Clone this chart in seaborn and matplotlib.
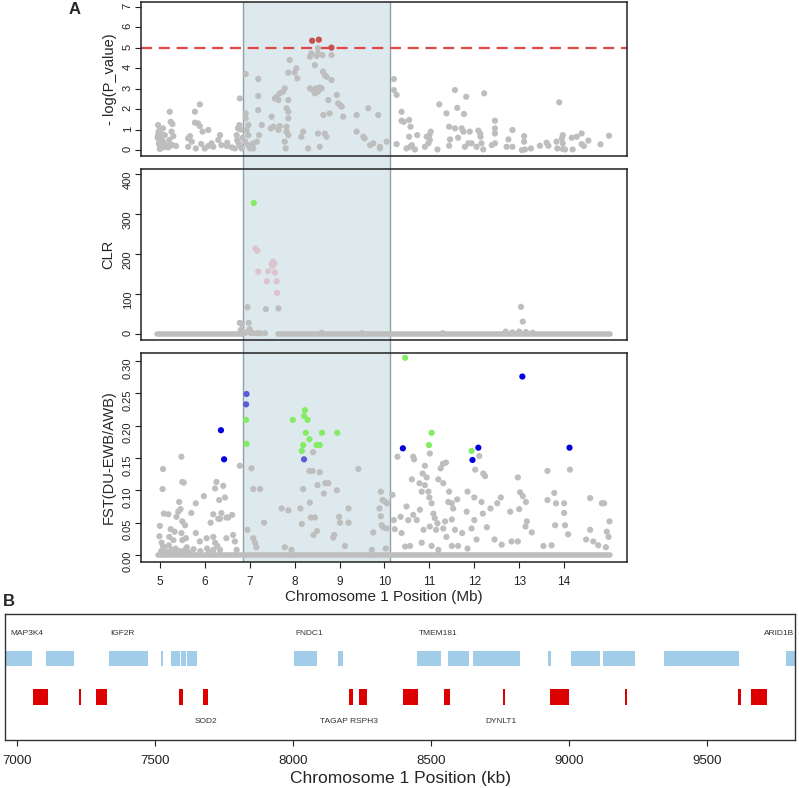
import numpy as np
import pandas as pd
import matplotlib
matplotlib.use("Agg")
import matplotlib.pyplot as plt
import seaborn as sns

sns.set_theme(style="white")
plt.rcParams["font.family"] = ["Liberation Sans", "DejaVu Sans"]

# ---------------- Panel A, top: -log(P) ----------------
pval_pos = [4.96, 5.0, 5.07, 4.96, 5.04, 5.11, 5.0, 5.07, 4.99, 5.06, 5.13, 5.22, 5.24, 5.28, 5.26, 5.3, 5.21, 5.28, 5.36, 5.19,
            4.97, 4.98, 5.0, 5.02, 4.95, 5.1, 5.15, 5.2, 5.03,
            5.63, 5.67, 5.71, 5.63, 5.78, 5.78, 5.85, 5.89, 5.89, 5.95, 6.08, 5.8, 6.0, 6.08, 6.15, 6.34, 6.3, 6.37, 6.5,
            6.6, 6.67, 6.71, 6.74, 6.77, 6.78, 6.72, 6.78, 6.82, 6.19, 6.49, 6.8, 6.84, 6.75, 5.92,
            6.91, 6.91, 6.91, 6.97, 6.93, 6.97, 6.9, 6.97, 7.01, 7.08, 7.19, 7.19, 7.19, 7.21, 7.16, 7.08, 7.27, 7.49, 7.47,
            7.53, 7.56, 7.6, 7.64, 7.67, 7.74, 7.78, 7.86, 7.89, 7.86, 7.82, 7.86, 7.86, 7.82, 7.82, 7.86, 7.78, 7.8, 7.67,
            7.64, 8.0, 8.04, 8.06, 8.19, 8.15, 8.3, 8.34, 8.37, 8.45, 8.49, 8.52, 8.52, 8.34, 8.41, 8.47, 8.52, 8.56, 8.6,
            8.45, 8.52, 8.56, 8.62, 8.63, 8.67, 8.71, 8.75, 8.78, 8.64, 8.67, 8.71, 8.82, 8.82, 8.94, 8.97, 9.01, 9.05,
            9.08, 9.38, 9.38, 9.53, 9.56, 9.64, 9.68, 9.75, 9.86, 9.9, 9.9, 10.05,
            10.21, 10.21, 10.27, 10.38, 10.38, 10.43, 10.55, 10.58, 10.55, 10.73, 10.27, 10.49, 10.57, 10.61, 10.68,
            10.9, 10.98, 11.01, 11.0, 11.03, 10.94, 11.18, 11.22, 11.38, 11.44, 11.46, 11.44, 11.57, 11.62, 11.57, 11.64,
            11.72, 11.77, 11.82, 11.76, 11.79, 11.87, 11.94, 11.9, 12.05, 12.09, 12.13, 12.14, 12.16, 12.2, 12.22, 12.39,
            12.46, 12.46, 12.46, 12.46, 12.76, 12.72, 12.85, 12.85, 13.06, 13.11, 13.11, 13.13, 13.26, 13.46, 13.61,
            13.65, 13.83, 13.85, 13.89, 13.95, 13.97, 13.97, 13.97, 14.02, 14.17, 14.19, 14.28, 14.39, 14.39, 14.44,
            14.54, 14.81, 15.0]
pval_val = [1.22, 0.98, 1.06, 0.73, 0.62, 0.73, 0.49, 0.41, 0.24, 0.13, 0.24, 1.87, 1.38, 1.27, 0.9, 0.68, 0.49, 0.24, 0.2, 0.13,
            0.9, 0.35, 0.05, 0.8, 0.6, 0.3, 0.15, 0.2, 0.2,
            0.57, 0.68, 0.41, 0.16, 1.87, 1.34, 1.3, 1.17, 2.23, 0.9, 0.98, 0.08, 0.08, 0.2, 0.33, 0.73, 0.49, 0.24, 0.36,
            0.13, 0.08, 0.73, 1.06, 1.22, 2.52, 0.49, 0.24, 0.08, 0.16, 0.2, 1.0, 0.6, 0.35, 0.3,
            3.71, 1.79, 1.55, 1.22, 0.98, 0.73, 0.41, 0.24, 0.08, 0.08, 3.47, 2.64, 1.95, 0.73, 0.41, 0.33, 1.22, 1.63, 1.06,
            1.14, 2.52, 2.6, 2.44, 2.77, 2.85, 3.01, 3.78, 4.4, 2.44, 2.04, 1.87, 1.55, 1.14, 0.9, 0.73, 0.41, 0.08, 1.17,
            0.98, 3.78, 3.99, 3.5, 0.9, 0.65, 0.08, 4.56, 4.72, 4.15, 4.59, 4.97, 4.72, 3.01, 2.93, 3.01, 2.85, 3.06, 3.01,
            2.77, 0.81, 0.16, 4.64, 3.83, 3.66, 3.58, 2.44, 1.79, 1.71, 0.81, 0.65, 3.42, 4.64, 2.69, 2.28, 2.2, 2.12,
            1.63, 1.71, 0.9, 0.65, 0.57, 2.04, 0.24, 0.33, 1.71, 0.16, 0.08, 0.41,
            3.47, 2.93, 2.69, 1.87, 1.43, 1.38, 1.47, 1.14, 0.65, 0.73, 0.29, 0.08, 0.16, 0.24, 0.03,
            0.16, 0.33, 0.49, 0.73, 0.9, 0.65, 0.03, 2.23, 1.79, 1.14, 0.52, 0.21, 2.93, 2.06, 1.06, 0.6,
            1.06, 1.76, 2.6, 0.9, 0.16, 0.33, 0.33, 0.9, 0.16, 0.95, 0.81, 0.65, 0.33, 0.03, 2.77, 0.24,
            0.33, 1.43, 1.06, 0.81, 0.52, 0.16, 0.98, 0.16, 0.0, 0.68, 0.41, 0.03, 0.08, 0.21, 0.36,
            0.21, 0.41, 0.08, 2.33, 0.57, 0.73, 0.33, 0.05, 0.03, 0.6, 0.03, 0.65, 0.81, 0.29, 0.2,
            0.46, 0.28, 0.7]
pval_sig_pos = [8.39, 8.54, 8.82]
pval_sig_val = [5.34, 5.39, 5.0]
pval_threshold = 5

# ---------------- Panel A, middle: CLR ----------------
clr_base_start = [4.93, 7.63]
clr_base_end = [6.85, 15.02]
clr_pos = [6.78, 6.82, 6.98, 6.8, 6.95, 7.36, 7.64, 6.83, 6.9, 6.99, 7.02, 7.08, 7.17, 7.23, 7.34, 7.0,
           12.7, 12.85, 13.0, 13.04, 13.08, 13.15, 13.3, 11.3, 9.5, 8.6,
           7.13, 7.17, 7.19, 7.41, 7.49, 7.52, 7.51, 7.56, 7.38, 7.6, 7.61, 7.55,
           7.09]
clr_val = [28, 25, 28, 10, 67, 62, 64, 5, 3, 8, 3, 2, 2, 2, 2, 12,
           6, 4, 6, 68, 31, 5, 3, 2, 2, 3,
           214, 208, 156, 157, 175, 181, 170, 154, 132, 132, 103, 176,
           328]
clr_grp = ["gray"] * 26 + ["pink"] * 12 + ["green"]

# ---------------- Panel A, bottom: FST ----------------
fst_base_start = [4.95]
fst_base_end = [15.02]
fst_gray_pos = [5.07, 5.06, 5.0, 4.99, 5.04, 5.07, 5.09, 5.19, 5.24, 5.21, 5.3, 5.26, 5.33, 5.37, 5.41, 5.43, 5.46, 5.48,
                5.5, 5.53, 5.5, 5.56, 5.48, 5.5, 5.58, 5.56, 5.7, 5.8, 5.8, 5.89, 5.98, 6.04, 6.13, 6.19, 6.23, 6.26,
                6.3, 6.34, 6.32, 6.37, 6.41, 6.45, 6.48, 6.52, 6.61, 6.19, 6.23, 6.28, 6.19, 6.34, 6.48, 6.63, 6.67,
                6.71, 6.78, 5.1, 5.15, 5.2, 5.35, 5.45, 5.6, 5.65, 5.75, 5.9, 6.05, 6.1, 5.03, 5.12, 5.28, 5.4,
                6.95, 7.04, 7.08, 7.23, 7.08, 7.12, 7.15, 7.32, 7.71, 7.86, 7.78, 7.93, 8.13, 8.19, 8.16, 8.33, 8.4, 8.56,
                8.34, 8.36, 8.45, 8.42, 8.5, 8.51, 8.68, 8.75, 8.65, 8.94, 8.88, 8.86, 9.01, 8.99, 9.2, 9.2, 9.12, 9.42,
                9.72, 9.75, 9.89, 9.92, 9.96, 10.01, 10.06, 9.94, 9.97, 10.05, 9.92, 10.03, 8.41,
                10.29, 10.64, 10.66, 11.01, 10.9, 10.85, 10.61, 10.78, 10.94, 10.9, 10.98, 10.83, 11.05, 11.0, 10.79,
                11.09, 11.12, 11.25, 11.3, 11.37, 11.2, 11.31, 11.44, 11.42, 11.5, 11.53, 11.62, 11.85, 11.83, 12.02,
                12.2, 12.24, 12.11, 12.0, 12.16, 12.0, 12.19, 12.36, 12.51, 12.59, 12.8, 13.02, 12.97, 13.08, 13.15,
                13.0, 13.17, 13.14, 13.28, 13.63, 13.63, 13.78, 13.82, 14.0, 14.0, 13.8, 14.02, 14.13, 14.09, 14.58,
                14.84, 14.89, 15.01, 14.58, 14.49, 14.65, 14.76, 14.95, 14.99, 14.93, 13.54, 13.72, 12.83, 12.97,
                12.61, 12.45, 12.28, 12.05, 11.94, 11.73, 11.57, 11.5, 11.35, 11.31, 11.38, 11.18, 11.15, 11.01,
                10.87, 10.72, 10.53, 10.49, 10.64, 10.36, 10.21, 10.23, 10.38, 10.46, 10.57, 10.83, 11.05, 11.2,
                11.5, 11.64, 11.85, 10.18]
fst_gray_val = [0.133, 0.102, 0.045, 0.029, 0.019, 0.013, 0.064, 0.063, 0.04, 0.028, 0.023, 0.008, 0.036, 0.059, 0.067,
                0.082, 0.071, 0.152, 0.113, 0.112, 0.052, 0.046, 0.034, 0.023, 0.026, 0.008, 0.065, 0.08, 0.034, 0.021,
                0.091, 0.026, 0.05, 0.063, 0.103, 0.113, 0.056, 0.056, 0.085, 0.065, 0.107, 0.089, 0.058, 0.058,
                0.062, 0.028, 0.019, 0.014, 0.008, 0.008, 0.026, 0.031, 0.021, 0.008, 0.138, 0.012, 0.005, 0.015,
                0.01, 0.006, 0.012, 0.004, 0.009, 0.006, 0.01, 0.004, 0.006, 0.004, 0.007, 0.005,
                0.039, 0.134, 0.102, 0.102, 0.026, 0.019, 0.012, 0.05, 0.072, 0.069, 0.012, 0.008, 0.072, 0.102,
                0.048, 0.13, 0.13, 0.128, 0.081, 0.058, 0.058, 0.031, 0.037, 0.108, 0.111, 0.111, 0.095, 0.1,
                0.031, 0.027, 0.05, 0.059, 0.072, 0.05, 0.014, 0.133, 0.008, 0.035, 0.072, 0.098, 0.085, 0.083,
                0.08, 0.046, 0.043, 0.041, 0.06, 0.01, 0.159,
                0.152, 0.152, 0.148, 0.157, 0.138, 0.126, 0.117, 0.111, 0.12, 0.108, 0.098, 0.098, 0.08, 0.089, 0.07,
                0.064, 0.057, 0.134, 0.141, 0.143, 0.117, 0.111, 0.098, 0.082, 0.08, 0.072, 0.086, 0.098, 0.067, 0.132,
                0.126, 0.122, 0.153, 0.089, 0.082, 0.054, 0.064, 0.072, 0.08, 0.089, 0.067, 0.097, 0.12, 0.091, 0.082,
                0.071, 0.052, 0.044, 0.035, 0.13, 0.085, 0.096, 0.08, 0.08, 0.065, 0.046, 0.046, 0.132, 0.032, 0.088,
                0.08, 0.08, 0.052, 0.039, 0.024, 0.021, 0.015, 0.036, 0.028, 0.012, 0.014, 0.015, 0.021, 0.021,
                0.016, 0.024, 0.043, 0.024, 0.041, 0.034, 0.039, 0.055, 0.052, 0.041, 0.028, 0.049, 0.039, 0.044,
                0.039, 0.054, 0.054, 0.075, 0.062, 0.059, 0.054, 0.04, 0.034, 0.013, 0.014, 0.019, 0.014, 0.008,
                0.014, 0.014, 0.01, 0.093]
fst_col_pos = [6.36, 6.43, 10.41, 12.09, 11.96, 13.07, 14.12,
               6.93, 6.92, 8.21,
               6.92, 6.93, 7.96, 8.23, 8.21, 8.29, 8.25, 8.33, 8.19, 8.16, 8.49, 8.56, 8.61, 8.95,
               10.46, 11.05, 10.99, 11.94]
fst_col_val = [0.193, 0.148, 0.165, 0.166, 0.147, 0.276, 0.166,
               0.249, 0.233, 0.148,
               0.209, 0.172, 0.209, 0.224, 0.215, 0.209, 0.189, 0.179, 0.170, 0.161, 0.170, 0.170, 0.189, 0.189,
               0.305, 0.189, 0.170, 0.161]
fst_col_grp = ["blue"] * 7 + ["slate"] * 3 + ["green"] * 18

shade_start, shade_end = 6.86, 10.13
mb_ticks = [5, 6, 7, 8, 9, 10, 11, 12, 13, 14]

# ---------------- Panel B: genes ----------------
gene_start = [6940, 7106, 7336, 7524, 7558, 7594, 7618, 8004, 8164, 8449, 8563, 8652, 8924, 9009, 9125, 9345, 9786]
gene_end = [7054, 7209, 7475, 7531, 7592, 7613, 7654, 8087, 8181, 8537, 8638, 8824, 8935, 9111, 9239, 9618, 9840]
snp_start = [7058, 7227, 7287, 7587, 7676, 8204, 8239, 8399, 8549, 8761, 8931, 9204, 9614, 9661]
snp_end = [7113, 7234, 7326, 7604, 7694, 8220, 8268, 8454, 8570, 8769, 9002, 9212, 9625, 9719]
top_labels = ["MAP3K4", "IGF2R", "FNDC1", "TMEM181", "ARID1B"]
top_label_pos = [6976, 7340, 8008, 8455, 9705]
bottom_labels = ["SOD2", "TAGAP RSPH3", "DYNLT1"]
bottom_label_pos = [7646, 8099, 8697]
kb_ticks = [7000, 7500, 8000, 8500, 9000, 9500]

# ---------------- figure ----------------
W, H = 799, 788
fig = plt.figure(figsize=(W / 100, H / 100), dpi=100)


def frac(left, top, right, bottom):
    return [left / W, 1 - bottom / H, (right - left) / W, (bottom - top) / H]


GRAY = "#BEBEBE"
palette = {"gray": GRAY, "pink": "#DCC3CC", "green": "#84EC63", "blue": "#0000DD", "slate": "#5C5CDA", "red": "#C8504E"}
xlim_mb = (4.58, 15.40)

# shade behind the panels
ax_sh = fig.add_axes(frac(141, 2, 627, 562))
ax_sh.set_xlim(*xlim_mb)
ax_sh.axvspan(shade_start, shade_end, facecolor="#DDE9EC", edgecolor="none", zorder=0)
ax_sh.axvline(shade_start, color="#8FA2A7", lw=1.0)
ax_sh.axvline(shade_end, color="#8FA2A7", lw=1.0)
ax_sh.axis("off")

ax1 = fig.add_axes(frac(141, 2, 627, 156))
ax2 = fig.add_axes(frac(141, 169, 627, 340))
ax3 = fig.add_axes(frac(141, 353, 627, 562))

for ax in (ax1, ax2, ax3):
    ax.set_facecolor("none")
    ax.set_xlim(*xlim_mb)
    for s in ax.spines.values():
        s.set_color("#222222")
        s.set_linewidth(1.1)
    ax.tick_params(axis="y", which="both", left=True, direction="out", length=4, width=0.8,
                   labelsize=8, pad=2, labelrotation=90, colors="#222222")

# top panel
df1 = pd.DataFrame({"pos": pval_pos + pval_sig_pos, "val": pval_val + pval_sig_val,
                    "grp": ["gray"] * len(pval_pos) + ["red"] * len(pval_sig_pos)})
ax1.axhline(pval_threshold, color="#E04848", lw=1.6, dashes=(5, 3), zorder=1)
sns.scatterplot(data=df1, x="pos", y="val", hue="grp", palette=palette, s=20, linewidth=0,
                legend=False, ax=ax1, zorder=3)
ax1.set_ylim(-0.29, 7.23)
ax1.set_yticks(range(0, 8))
ax1.set_xticks([])
ax1.set_xlabel("")
ax1.set_ylabel("- log(P_value)", fontsize=10.5)
ax1.yaxis.set_label_coords(-0.049, 0.5)

# middle panel
ax2.hlines([0] * len(clr_base_start), clr_base_start, clr_base_end, color=GRAY, lw=4, zorder=2).set_capstyle("round")
df2 = pd.DataFrame({"pos": clr_pos, "val": clr_val, "grp": clr_grp})
sns.scatterplot(data=df2, x="pos", y="val", hue="grp", palette=palette, s=20, linewidth=0,
                legend=False, ax=ax2, zorder=3)
ax2.set_ylim(-15, 413)
ax2.set_yticks([0, 100, 200, 300, 400])
ax2.set_xticks([])
ax2.set_xlabel("")
ax2.set_ylabel("CLR", fontsize=10.5)
ax2.yaxis.set_label_coords(-0.052, 0.5)

# bottom panel
ax3.hlines([0] * len(fst_base_start), fst_base_start, fst_base_end, color=GRAY, lw=4, zorder=2).set_capstyle("round")
df3 = pd.DataFrame({"pos": fst_gray_pos + fst_col_pos, "val": fst_gray_val + fst_col_val,
                    "grp": ["gray"] * len(fst_gray_pos) + fst_col_grp})
sns.scatterplot(data=df3, x="pos", y="val", hue="grp", palette=palette, s=20, linewidth=0,
                legend=False, ax=ax3, zorder=3)
ax3.set_ylim(-0.0108, 0.3124)
ax3.set_yticks([0, 0.05, 0.10, 0.15, 0.20, 0.25, 0.30])
ax3.set_yticklabels(["0.00", "0.05", "0.10", "0.15", "0.20", "0.25", "0.30"])
ax3.set_xticks(mb_ticks)
ax3.set_xticklabels([str(t) for t in mb_ticks])
ax3.tick_params(axis="x", bottom=True, direction="out", length=4, width=0.8, labelsize=8.5, pad=6,
                colors="#222222")
ax3.set_ylabel("FST(DU-EWB/AWB)", fontsize=10.5)
ax3.yaxis.set_label_coords(-0.052, 0.5)
ax3.set_xlabel("Chromosome 1 Position (Mb)", fontsize=11)
ax3.xaxis.set_label_coords(0.5, -0.135)

# panel B
axb = fig.add_axes(frac(5, 614, 795, 740))
axb.set_xlim(6958, 9819)
axb.set_ylim(0, 1)
axb.barh([0.6465] * len(gene_start), np.array(gene_end) - np.array(gene_start), left=gene_start,
         height=0.119, color="#A2CDE8", linewidth=0)
axb.barh([0.3415] * len(snp_start), np.array(snp_end) - np.array(snp_start), left=snp_start,
         height=0.127, color="#DD0000", linewidth=0)
for lab, x in zip(top_labels, top_label_pos):
    axb.text(x, 0.849, lab, fontsize=6, ha="left", va="center", color="#333333")
for lab, x in zip(bottom_labels, bottom_label_pos):
    axb.text(x, 0.143, lab, fontsize=6, ha="left", va="center", color="#333333")
axb.set_yticks([])
axb.set_xticks(kb_ticks)
axb.set_xticklabels([str(t) for t in kb_ticks])
axb.tick_params(axis="x", bottom=True, direction="out", length=4, width=0.8, labelsize=9.5, pad=7,
                colors="#222222")
for s in axb.spines.values():
    s.set_color("#333333")
    s.set_linewidth(1.0)
axb.set_xlabel("Chromosome 1 Position (kb)", fontsize=12.5)
axb.xaxis.set_label_coords(0.5, -0.245)

fig.text(75 / W, 1 - 10 / H, "A", fontsize=12, fontweight="bold", ha="center", va="center")
fig.text(9 / W, 1 - 602 / H, "B", fontsize=12, fontweight="bold", ha="center", va="center")

fig.savefig("out.png", dpi=100)
